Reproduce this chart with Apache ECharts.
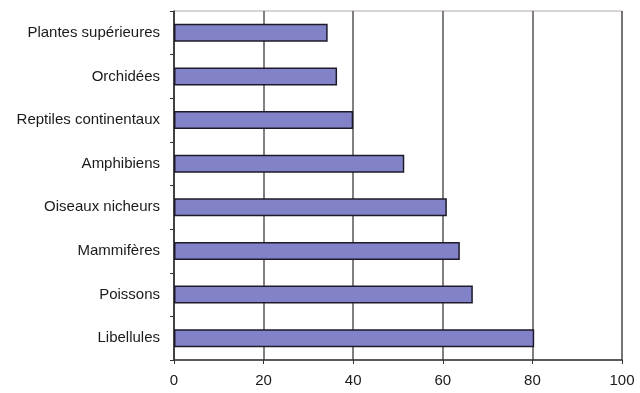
<!DOCTYPE html>
<html>
<head>
<meta charset="utf-8">
<script src="https://cdn.jsdelivr.net/npm/echarts@6/dist/echarts.min.js"></script>
<style>html,body{margin:0;padding:0;background:#fff}#chart{width:640px;height:393px}</style>
</head>
<body>
<div id="chart"></div>
<script>
// Groupes d'espèces (haut en bas) et pourcentages associés
const categories = [
  'Plantes supérieures',
  'Orchidées',
  'Reptiles continentaux',
  'Amphibiens',
  'Oiseaux nicheurs',
  'Mammifères',
  'Poissons',
  'Libellules'
];
const values = [34.3, 36.4, 40.0, 51.4, 60.9, 63.8, 66.7, 80.4];
const xTicks = [0, 20, 40, 60, 80, 100];

const labelFont = 'Liberation Sans, Arial, sans-serif';

const chart = echarts.init(document.getElementById('chart'), null, { renderer: 'canvas' });
chart.setOption({
  animation: false,
  backgroundColor: '#fff',
  grid: {
    left: 174, right: 18, top: 11, bottom: 33,
    show: true, borderColor: '#b0aaa6', borderWidth: 1
  },
  xAxis: {
    type: 'value',
    min: xTicks[0], max: xTicks[xTicks.length - 1], interval: 20,
    axisLine: { show: true, lineStyle: { color: '#333', width: 1.5 } },
    axisTick: { show: true, length: 4, lineStyle: { color: '#333' } },
    axisLabel: { color: '#1a1a1a', fontFamily: labelFont, fontSize: 15, margin: 13 },
    splitLine: { show: true, lineStyle: { color: '#5a5553', width: 1.5 } }
  },
  yAxis: {
    type: 'category',
    data: categories,
    inverse: true,
    axisLine: { show: true, lineStyle: { color: '#333', width: 1.5 } },
    axisTick: { show: true, length: 4, lineStyle: { color: '#333' } },
    axisLabel: { color: '#1a1a1a', fontFamily: labelFont, fontSize: 15, margin: 14 },
    splitLine: { show: false }
  },
  series: [{
    type: 'bar',
    data: values,
    barWidth: 18,
    itemStyle: { color: '#8282c8', borderColor: '#1e1a2a', borderWidth: 1.5 }
  }]
});
</script>
</body>
</html>
